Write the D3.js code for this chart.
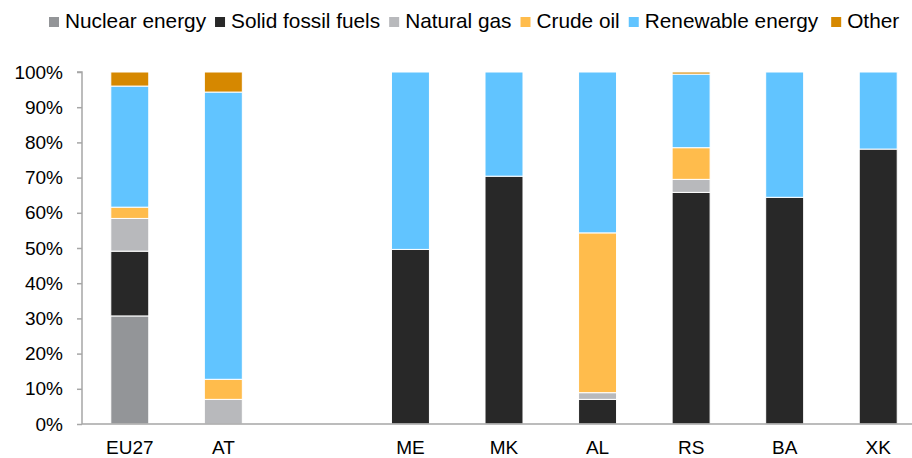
<!DOCTYPE html>
<html>
<head>
<meta charset="utf-8">
<script src="https://cdn.jsdelivr.net/npm/d3@7"></script>
<style>
  body { margin: 0; background: #fff; }
  svg { display: block; font-family: "Liberation Sans", Arial, sans-serif; }
  .axis path, .axis line { stroke: #a6a6a6; stroke-width: 1.5; }
  .axis text { fill: #000; font-size: 19px; }
  .legend text { font-size: 20.8px; fill: #000; }
</style>
</head>
<body>
<svg id="chart" width="912" height="458"></svg>
<script>
// "" is the empty slot between AT and the Western Balkans
var categories = ["EU27", "AT", "", "ME", "MK", "AL", "RS", "BA", "XK"];

var nuclear   = [30.7,  0,   0,  0,    0,    0,    0,    0,    0];
var solid     = [18.4,  0,   0, 49.6, 70.4,  7.0, 65.8, 64.4, 78.1];
var gas       = [ 9.3,  7.0, 0,  0,    0,    1.9,  3.7,  0,    0];
var oil       = [ 3.2,  5.7, 0,  0,    0,   45.4,  9.0,  0,    0];
var renewable = [34.4, 81.6, 0, 50.4, 29.6, 45.7, 20.9, 35.6, 21.9];
var other     = [ 4.0,  5.7, 0,  0,    0,    0,    0.6,  0,    0];

var seriesNames = ["Nuclear energy", "Solid fossil fuels", "Natural gas",
                   "Crude oil", "Renewable energy", "Other"];
var seriesColors = ["#939598", "#282828", "#b8b9bc", "#ffbc4c", "#61c4ff", "#d68800"];

var yTicks = [0, 0.1, 0.2, 0.3, 0.4, 0.5, 0.6, 0.7, 0.8, 0.9, 1];

var svg = d3.select("#chart");

var seriesValues = [nuclear, solid, gas, oil, renewable, other];
var rows = categories.map(function(c, i) {
    var row = { cat: c };
    seriesNames.forEach(function(s, j) { row[s] = seriesValues[j][i] / 100; });
    return row;
});

var x = d3.scaleBand()
        .domain(categories)
        .range([83, 925])
        .paddingInner(0.594)
        .paddingOuter(0.297),
    y = d3.scaleLinear().domain([0, 1]).range([424, 72]),
    color = d3.scaleOrdinal().domain(seriesNames).range(seriesColors);

var stack = d3.stack().keys(seriesNames)(rows);

// bars
svg.append("g").selectAll(".series")
    .data(stack)
    .enter().append("g")
    .attr("class", "series")
    .attr("fill", function(d) { return color(d.key); })
    .selectAll("rect")
    .data(function(d) { return d.filter(function(p) { return p[1] - p[0] > 0; }); })
    .enter().append("rect")
    .attr("x", function(d) { return x(d.data.cat); })
    .attr("width", x.bandwidth())
    .attr("y", function(d) { return y(d[1]); })
    .attr("height", function(d) { return y(d[0]) - y(d[1]); })
    .attr("stroke", "#fff")
    .attr("stroke-width", 1);

// y axis
var yAxis = svg.append("g")
    .attr("class", "axis")
    .attr("transform", "translate(82,0)")
    .call(d3.axisLeft(y).tickValues(yTicks).tickFormat(d3.format(".0%"))
          .tickSize(5).tickPadding(14));
yAxis.select(".domain").attr("d", "M-5,72H0V424");

// x axis
var xAxis = svg.append("g")
    .attr("class", "axis")
    .attr("transform", "translate(0,424)")
    .call(d3.axisBottom(x).tickSize(0).tickPadding(17));
xAxis.select(".domain").attr("d", "M82,0H912");

// legend
var legend = svg.append("g").attr("class", "legend");
var lx = 49;
seriesNames.forEach(function(name, i) {
    if (name === "Other") { lx += 4; }
    legend.append("rect")
        .attr("x", lx).attr("y", 17)
        .attr("width", 10).attr("height", 10)
        .attr("fill", color(name));
    var t = legend.append("text")
        .attr("x", lx + 16).attr("y", 28)
        .text(name);
    lx += 16 + t.node().getComputedTextLength() + 9;
});
</script>
</body>
</html>
